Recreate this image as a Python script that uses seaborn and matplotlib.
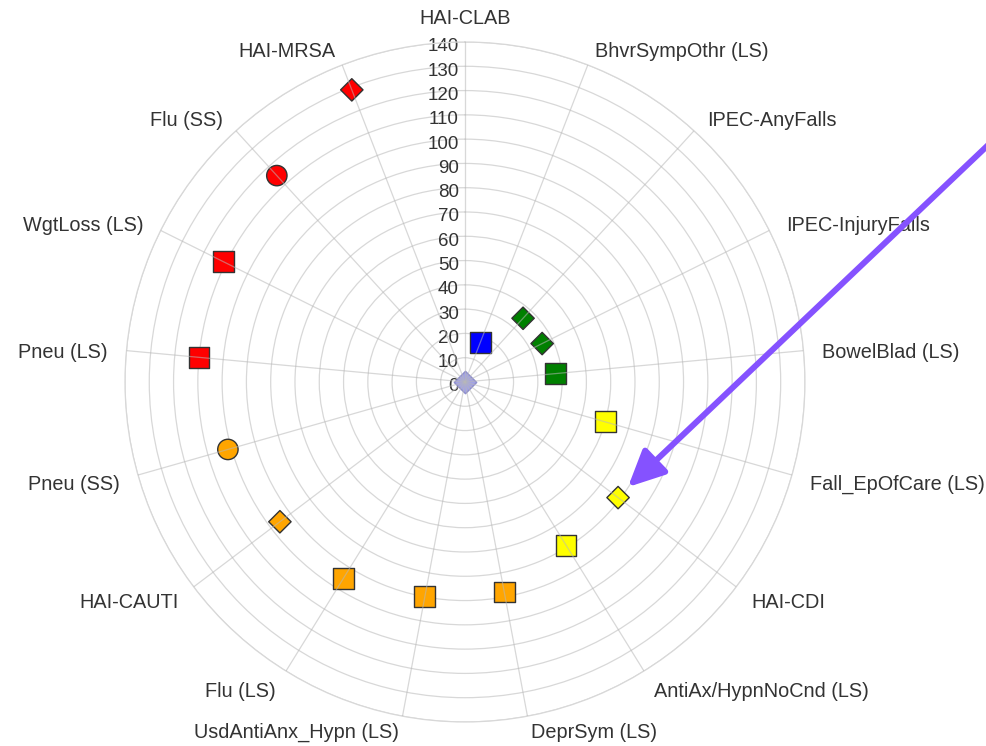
import numpy as np
import pandas as pd
import matplotlib
matplotlib.use("Agg")
import matplotlib.pyplot as plt
import seaborn as sns
from matplotlib.transforms import offset_copy

categories = ["HAI-CLAB", "BhvrSympOthr (LS)", "IPEC-AnyFalls", "IPEC-InjuryFalls",
              "BowelBlad (LS)", "Fall_EpOfCare (LS)", "HAI-CDI", "AntiAx/HypnNoCnd (LS)",
              "DeprSym (LS)", "UsdAntiAnx_Hypn (LS)", "Flu (LS)", "HAI-CAUTI",
              "Pneu (SS)", "Pneu (LS)", "WgtLoss (LS)", "Flu (SS)", "HAI-MRSA"]
values = [0, 17.5, 35.5, 35.5, 37.5, 60, 79, 79, 88, 90, 95, 95.5, 101.5, 110, 111, 115, 129]
point_colors = ["#a3a3e3", "#0000ff", "#008000", "#008000", "#008000",
                "#ffff00", "#ffff00", "#ffff00",
                "#ffa500", "#ffa500", "#ffa500", "#ffa500", "#ffa500",
                "#ff0000", "#ff0000", "#ff0000", "#ff0000"]
point_markers = ["D", "s", "D", "D", "s", "s", "D", "s", "s", "s", "s", "D", "o", "s", "s", "o", "D"]
edge_colors = ["#8d8dcc"] + ["#333333"] * 16
radial_ticks = list(range(0, 141, 10))

sns.set_style("white")
plt.rcParams["font.family"] = ["Liberation Sans", "DejaVu Sans"]

n = len(categories)
theta = np.deg2rad(np.arange(n) * 360.0 / n)
df = pd.DataFrame({"theta": theta, "value": values, "color": point_colors,
                   "marker": point_markers, "edge": edge_colors})

fig = plt.figure(figsize=(9.87, 7.46), dpi=100)
ax = fig.add_axes([0.1266, 0.0322, 0.689, 0.9115], projection="polar")
ax.set_theta_zero_location("N")
ax.set_theta_direction(-1)

sizes = {"s": 225, "o": 215, "D": 130}
for (mk, ec), sub in df.groupby(["marker", "edge"]):
    sns.scatterplot(data=sub, x="theta", y="value", hue="color",
                    palette={c: c for c in sub["color"].unique()},
                    marker=mk, s=sizes[mk], edgecolor=ec, linewidth=1.0,
                    legend=False, ax=ax, zorder=2)

ax.set_xlabel("")
ax.set_ylabel("")
ax.set_ylim(0, 140)
ax.set_xticks(theta)
ax.set_xticklabels([])
ax.set_yticks(radial_ticks)
ax.set_yticklabels([])
ax.grid(True, color="#b8b8b8", alpha=0.55, linewidth=0.9)
ax.set_axisbelow(False)
ax.yaxis.set_zorder(1.2)
ax.spines["polar"].set_color("#d8d8d8")
ax.spines["polar"].set_linewidth(0.9)

txt_color = "#333333"
for r in radial_ticks:
    ax.text(0, r, str(r), transform=offset_copy(ax.transData, fig=fig, x=-6, y=-5, units="dots"),
            ha="right", va="center", fontsize=13.5, color=txt_color, zorder=1.5)

for t, lab in zip(theta, categories):
    sx, cy = np.sin(t), np.cos(t)
    if abs(sx) < 0.05:
        d = 27
        ha = "center"
    else:
        d = 19
        ha = "left" if sx > 0 else "right"
    shift = 2 if cy < -0.95 else -4
    tr = offset_copy(ax.transData, fig=fig, x=d * sx, y=d * cy + shift, units="dots")
    ax.text(t, 140, lab, transform=tr, ha=ha, va="center", fontsize=14.3, color=txt_color)

ax.annotate("", xy=(628, 259), xycoords="figure pixels",
            xytext=(1005, 617), textcoords="figure pixels",
            arrowprops=dict(arrowstyle="-|>,head_length=2.2,head_width=1.05",
                            color="#8552ff", lw=4.3, shrinkA=0, shrinkB=0),
            annotation_clip=False)

fig.savefig("out.png", dpi=100)
